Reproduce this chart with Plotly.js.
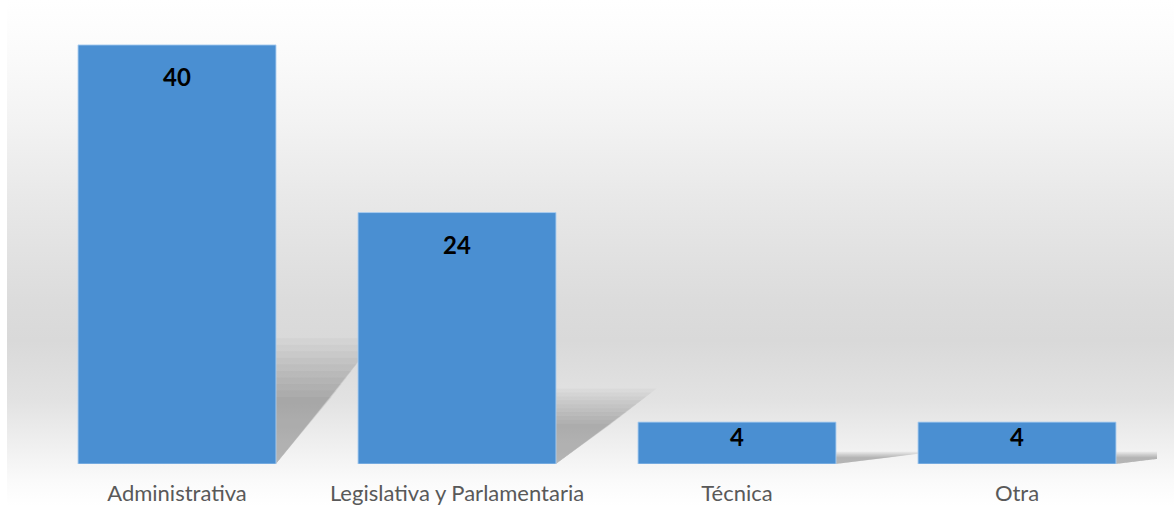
<!DOCTYPE html>
<html>
<head>
<meta charset="utf-8">
<script src="https://cdn.plot.ly/plotly-3.0.1.min.js"></script>
<style>
  html, body { margin: 0; padding: 0; background: #ffffff; }
  #chart {
    width: 1174px; height: 506px;
    background-color: #ffffff;
    background-image: linear-gradient(to bottom, #ffffff 0px, #fafafa 60px, #f3f3f3 120px, #e8e8e8 200px, #dcdcdc 300px, #d9d9d9 340px, #e2e2e2 400px, #f1f1f1 450px, #fafafa 480px, #ffffff 506px);
    background-repeat: no-repeat;
    background-position: 7px 0;
    background-size: 1167px 506px;
  }
</style>
</head>
<body>
<div id="chart"></div>
<script>
const categories = ["Administrativa", "Legislativa y Parlamentaria", "Técnica", "Otra"];
const values = [40, 24, 4, 4];
const labels = ["40", "24", "4", "4"];

const barWidth = 0.707;
const half = barWidth / 2;

// soft shadows behind the bars, derived from the bar values
const shapes = [];
const N = 10;
values.forEach((v, i) => {
  for (let k = 0; k < N; k++) {
    const t = k / (N - 1);
    const hf = 0.30 - 0.14 * t;
    const dx = 0.36 - 0.16 * t;
    const h = v * hf;
    const x0 = i - half, x1 = i + half;
    shapes.push({
      type: 'path', xref: 'x', yref: 'y', layer: 'below',
      path: `M ${x0} 0 L ${x1} 0 L ${x1 + dx} ${h} L ${x0 + dx} ${h} Z`,
      fillcolor: 'rgba(0,0,0,0.028)', line: {width: 0}
    });
  }
});

const annotations = values.map((v, i) => ({
  x: categories[i], y: v - Math.min(3, v * 0.35),
  xref: 'x', yref: 'y', text: '<b>' + labels[i] + '</b>', showarrow: false,
  font: {family: 'Lato, "Liberation Sans", sans-serif', size: 24, color: '#000000'},
  xanchor: 'center', yanchor: 'middle'
}));

const trace = {
  type: 'bar',
  x: categories,
  y: values,
  marker: {color: '#4a8fd2', line: {color: 'rgba(170,205,240,0.9)', width: 1}},
  hoverinfo: 'none'
};

const layout = {
  width: 1174, height: 506,
  margin: {l: 37, r: 17, t: 24, b: 42},
  paper_bgcolor: 'rgba(0,0,0,0)',
  plot_bgcolor: 'rgba(0,0,0,0)',
  bargap: 0.293,
  showlegend: false,
  xaxis: {
    type: 'category', range: [-0.5, 3.5], autorange: false,
    showgrid: false, zeroline: false, showline: false,
    ticks: '', ticklabelstandoff: 14,
    tickfont: {family: 'Lato, "Liberation Sans", sans-serif', size: 22, color: '#595959'}
  },
  yaxis: {range: [0, 42], autorange: false, visible: false, showgrid: false, zeroline: false},
  shapes: shapes,
  annotations: annotations
};

Plotly.newPlot('chart', [trace], layout, {displayModeBar: false, staticPlot: true});
</script>
</body>
</html>
